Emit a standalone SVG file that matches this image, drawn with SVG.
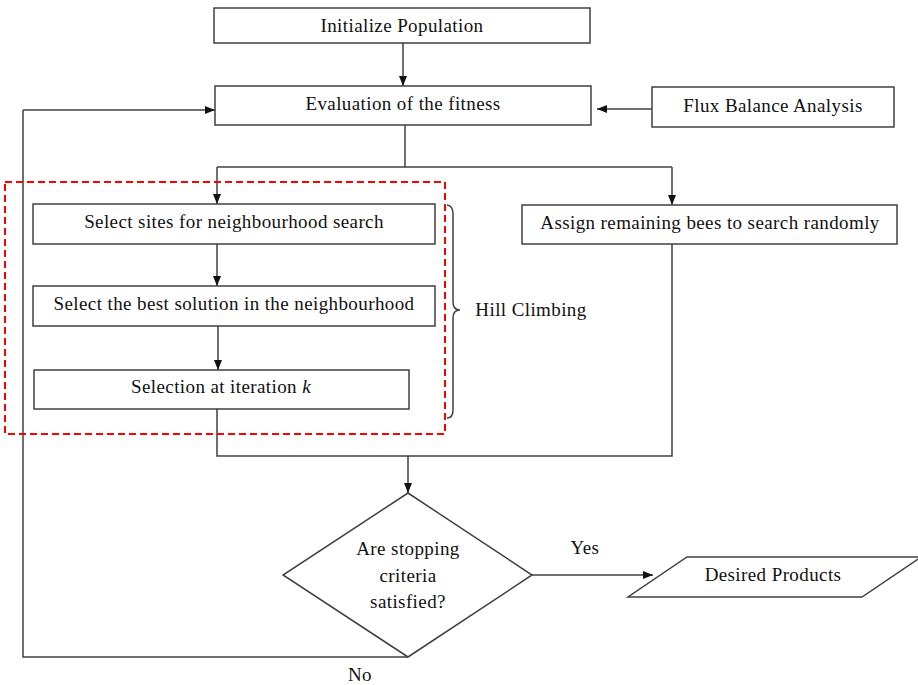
<svg xmlns="http://www.w3.org/2000/svg" width="918" height="685" viewBox="0 0 918 685">
<style>
.box{fill:#fff;stroke:#404040;stroke-width:1.5}
.ln{fill:none;stroke:#404040;stroke-width:1.5}
.t{font-family:"Liberation Serif","Times New Roman",serif;font-size:19px;letter-spacing:0.4px;fill:#111;text-anchor:middle}
</style>
<defs>
<marker id="ah" viewBox="0 0 10 10" refX="10" refY="5" markerWidth="10" markerHeight="10" markerUnits="userSpaceOnUse" orient="auto">
<path d="M0,1 L10,5 L0,9 Z" fill="#111"/>
</marker>
</defs>
<rect width="918" height="685" fill="#fff"/>
<g id="connectors">
<line class="ln" x1="403" y1="43" x2="403" y2="86" marker-end="url(#ah)"/>
<line class="ln" x1="652" y1="109" x2="597" y2="109" marker-end="url(#ah)"/>
<polyline class="ln" points="405,125 405,167"/>
<polyline class="ln" points="217,167 672,167"/>
<line class="ln" x1="217" y1="167" x2="217" y2="204" marker-end="url(#ah)"/>
<line class="ln" x1="672" y1="167" x2="672" y2="205" marker-end="url(#ah)"/>
<line class="ln" x1="217" y1="244" x2="217" y2="286" marker-end="url(#ah)"/>
<line class="ln" x1="218" y1="326" x2="218" y2="370" marker-end="url(#ah)"/>
<polyline class="ln" points="217,409 217,456 672,456 672,244"/>
<line class="ln" x1="408" y1="456" x2="408" y2="493" marker-end="url(#ah)"/>
<line class="ln" x1="532" y1="575" x2="653" y2="575" marker-end="url(#ah)"/>
<polyline class="ln" points="408,657 23,657 23,110"/>
<line class="ln" x1="23" y1="110" x2="215" y2="110" marker-end="url(#ah)"/>
<text class="t" x="585" y="554">Yes</text>
<text class="t" x="360" y="681">No</text>
</g>
<g id="hill-climbing-group">
<rect x="5" y="182" width="440" height="252" fill="none" stroke="#ff0000" stroke-width="2" stroke-dasharray="7,4"/>
<path class="ln" d="M447,205 Q453,206 453,214 L453,302 Q453,310 460,310 Q453,310 453,318 L453,410 Q453,418 447,418" stroke-width="1.2"/>
<text class="t" x="531" y="316">Hill Climbing</text>
</g>
<g id="init">
<rect class="box" x="214" y="8" width="376" height="35"/>
<text class="t" x="402" y="32">Initialize Population</text>
</g>
<g id="eval">
<rect class="box" x="215" y="86" width="376" height="39"/>
<text class="t" x="403" y="110">Evaluation of the fitness</text>
</g>
<g id="fba">
<rect class="box" x="652" y="87" width="242" height="40"/>
<text class="t" x="773" y="112">Flux Balance Analysis</text>
</g>
<g id="select-sites">
<rect class="box" x="33" y="204" width="402" height="40"/>
<text class="t" x="234" y="228">Select sites for neighbourhood search</text>
</g>
<g id="assign">
<rect class="box" x="522" y="205" width="375" height="39"/>
<text class="t" x="710" y="229">Assign remaining bees to search randomly</text>
</g>
<g id="select-best">
<rect class="box" x="33" y="286" width="402" height="40"/>
<text class="t" x="234" y="310">Select the best solution in the neighbourhood</text>
</g>
<g id="selection-k">
<rect class="box" x="34" y="370" width="375" height="39"/>
<text class="t" x="221" y="393">Selection at iteration <tspan font-style="italic">k</tspan></text>
</g>
<g id="decision">
<polygon class="box" points="408,493 532,575 408,657 283,575"/>
<text class="t" x="408" y="555">Are stopping</text>
<text class="t" x="408" y="582">criteria</text>
<text class="t" x="408" y="608">satisfied?</text>
</g>
<g id="desired">
<polygon class="box" points="687,557 921,557 862,597 628,597"/>
<text class="t" x="773" y="581">Desired Products</text>
</g>
</svg>
